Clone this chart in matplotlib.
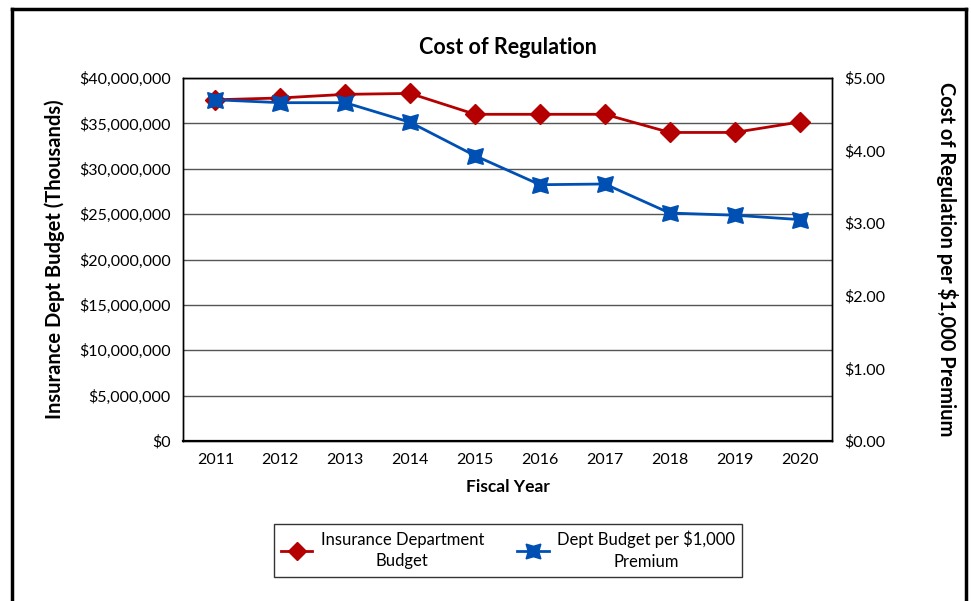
import numpy as np
import matplotlib.pyplot as plt
from matplotlib.ticker import FuncFormatter
from matplotlib.lines import Line2D

plt.rcParams['font.family'] = ['Lato', 'DejaVu Sans']

years = ['2011', '2012', '2013', '2014', '2015', '2016', '2017', '2018', '2019', '2020']
budget = [37.6e6, 37.8e6, 38.2e6, 38.3e6, 36.0e6, 36.0e6, 36.0e6, 34.0e6, 34.0e6, 35.15e6]
per_1000 = [4.70, 4.66, 4.66, 4.39, 3.93, 3.53, 3.54, 3.14, 3.11, 3.05]

red = '#B40000'
blue = '#0050B4'

fig = plt.figure(figsize=(9.71, 6.01), dpi=100)
ax = fig.add_axes([183/971, 1-441/601, 649/971, 363/601])
ax2 = ax.twinx()

x = np.arange(len(years))
ax.plot(x, budget, color=red, lw=2, marker='D', ms=10, zorder=3)
ax2.plot(x, per_1000, color=blue, lw=2, marker=(4, 1, 45), ms=16, zorder=3)

ax.set_xlim(-0.5, len(years) - 0.5)
ax.set_ylim(0, 40e6)
ax2.set_ylim(0, 5)
ax.set_yticks(np.arange(0, 40e6 + 1, 5e6))
ax2.set_yticks(np.arange(0, 5.01, 1))
ax.yaxis.set_major_formatter(FuncFormatter(lambda v, p: '${:,.0f}'.format(v)))
ax2.yaxis.set_major_formatter(FuncFormatter(lambda v, p: '${:.2f}'.format(v)))
ax.set_xticks(x)
ax.set_xticklabels(years)
ax.grid(axis='y', color='#555555', lw=1)
ax.set_axisbelow(True)

for a in (ax, ax2):
    a.tick_params(length=0, labelsize=11.5, pad=9)
    for s in a.spines.values():
        s.set_color('black')
        s.set_linewidth(1)
ax.spines['bottom'].set_linewidth(1.6)

ax.set_title('Cost of Regulation', fontsize=15.5, fontweight='bold', pad=17)
ax.set_xlabel('Fiscal Year', fontsize=12.5, fontweight='bold', labelpad=8)
ax.set_ylabel('Insurance Dept Budget (Thousands)', fontsize=14.5, fontweight='bold', labelpad=10)
ax2.set_ylabel('Cost of Regulation per $1,000 Premium', fontsize=14.5, fontweight='bold',
               rotation=270, labelpad=52)

handles = [Line2D([], [], color=red, lw=2, marker='D', ms=9),
           Line2D([], [], color=blue, lw=2, marker=(4, 1, 45), ms=15)]
leg = fig.legend(handles, ['Insurance Department\nBudget', 'Dept Budget per $1,000\nPremium'],
                 loc='center', ncol=2, fontsize=12, frameon=True, fancybox=False,
                 bbox_to_anchor=(274/971, 1-584/601, 468/971, 67/601), mode='expand',
                 handlelength=1.9, handletextpad=0.5, columnspacing=0.8, borderaxespad=0)
leg.get_frame().set_edgecolor('black')
leg.get_frame().set_linewidth(1)
for t in leg.get_texts():
    t.set_multialignment('center')
    t.set_linespacing(1.45)

# outer chart frame (bottom edge cut off in reference)
fig.add_artist(Line2D([12/971, 12/971], [0, 1-9/601], color='black', lw=2.5, transform=fig.transFigure))
fig.add_artist(Line2D([966/971, 966/971], [0, 1-9/601], color='black', lw=2.5, transform=fig.transFigure))
fig.add_artist(Line2D([12/971, 966/971], [1-9/601, 1-9/601], color='black', lw=2.5, transform=fig.transFigure))

fig.savefig('out.png', dpi=100)
